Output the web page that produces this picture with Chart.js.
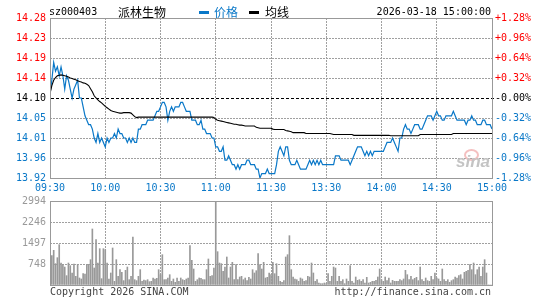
<!DOCTYPE html>
<html>
<head>
<meta charset="utf-8">
<script src="https://cdn.jsdelivr.net/npm/chart.js@4.4.1/dist/chart.umd.min.js"></script>
<style>
body{margin:0;background:#fff;}
#wrap{position:relative;width:545px;height:300px;overflow:hidden;background:#fff;}
canvas{position:absolute;left:0;}
.t{position:absolute;font-family:"DejaVu Sans Mono",monospace;font-size:10px;line-height:12px;white-space:pre;color:#000;}
.cn{font-family:"Noto Sans CJK SC",sans-serif;font-size:12px;line-height:14px;}
.dash{position:absolute;top:11px;width:10px;height:3px;}
</style>
</head>
<body>
<div id="wrap">
<canvas id="priceChart" width="545" height="196" style="top:0px"></canvas>
<canvas id="volChart" width="545" height="110" style="top:190px"></canvas>

<div class="t" style="left:49px;top:6px">sz000403</div>
<div class="t cn" style="left:118px;top:5px">派林生物</div>
<div class="dash" style="left:199px;background:#0a78c8"></div>
<div class="t cn" style="left:214px;top:5px;color:#0a78c8">价格</div>
<div class="dash" style="left:249px;background:#000"></div>
<div class="t cn" style="left:265px;top:5px">均线</div>
<div class="t" style="right:54px;top:6px">2026-03-18 15:00:00</div>

<div style="position:absolute;left:464px;top:149px;width:11px;height:8px;border:2px solid #f4c0c0;border-radius:50%"></div>
<div style="position:absolute;left:456px;top:152px;font:italic bold 17px 'Liberation Sans',sans-serif;color:#c4c4c4">sina</div>

<div class="t" style="left:50px;top:286px;color:#444">Copyright 2026 SINA.COM</div>
<div class="t" style="right:54px;top:286px;color:#444">http://finance.sina.com.cn</div>
</div>

<script>
// DATA
let timeLabels = ["09:30","10:00","10:30","11:00","11:30","13:30","14:00","14:30","15:00"];
let priceTickLabels = ["13.92","13.96","14.01","14.05","14.10","14.14","14.19","14.23","14.28"];
let pctTickLabels = ["-1.28%","-0.96%","-0.64%","-0.32%","-0.00%","+0.32%","+0.64%","+0.96%","+1.28%"];
let volTickLabels = ["0","748","1497","2246","2994"];

let prevClose = 14.10;
let priceMin = 13.92;
let priceMax = 14.28;
let volMax = 2994;

// one value per minute, 09:30 .. 11:30 / 13:01 .. 15:00
let prices = [
14.11,14.14,14.18,14.16,14.17,14.15,14.17,14.15,14.12,14.15,
14.14,14.12,14.10,14.12,14.13,14.14,14.10,14.10,14.08,14.06,
14.05,14.04,14.04,14.03,14.01,14.00,14.02,14.00,14.01,14.00,
13.99,14.01,14.00,14.01,14.01,14.02,14.01,14.03,14.02,14.02,
14.01,14.01,14.00,14.01,14.00,14.01,14.00,14.00,14.03,14.03,
14.04,14.04,14.04,14.05,14.05,14.05,14.05,14.06,14.07,14.07,
14.08,14.09,14.09,14.08,14.05,14.07,14.08,14.07,14.08,14.08,
14.08,14.09,14.09,14.08,14.07,14.07,14.07,14.05,14.05,14.05,
14.04,14.04,14.05,14.03,14.03,14.02,14.02,14.02,14.01,14.01,
13.99,13.99,13.98,13.98,13.99,13.96,13.96,13.97,13.96,13.95,
13.95,13.94,13.95,13.94,13.95,13.95,13.95,13.96,13.96,13.95,
13.95,13.95,13.94,13.94,13.92,13.93,13.93,13.93,13.94,13.93,
13.93,13.93,13.93,13.95,13.98,13.99,13.98,13.97,13.99,13.99,
13.96,13.95,13.95,13.95,13.96,13.95,13.94,13.94,13.94,13.94,
13.95,13.96,13.95,13.96,13.95,13.96,13.95,13.96,13.95,13.95,
13.95,13.95,13.95,13.95,13.95,13.97,13.97,13.97,13.96,13.96,
13.96,13.96,13.96,13.95,13.96,13.97,13.98,13.99,13.99,13.99,
13.98,13.97,13.98,13.97,13.98,13.97,13.98,13.98,13.98,13.98,
13.98,13.98,13.99,14.00,14.00,14.00,14.01,14.00,13.99,13.98,
14.01,14.01,14.03,14.04,14.03,14.03,14.02,14.03,14.04,14.04,
14.04,14.03,14.03,14.04,14.05,14.06,14.06,14.06,14.05,14.06,
14.07,14.06,14.06,14.05,14.05,14.06,14.06,14.06,14.06,14.07,
14.06,14.05,14.05,14.05,14.05,14.05,14.04,14.05,14.05,14.06,
14.05,14.05,14.04,14.04,14.04,14.05,14.05,14.04,14.04,14.04,
14.03
];

let avgPrices = [
14.110,14.128,14.140,14.146,14.150,14.151,14.152,14.151,14.150,14.149,
14.147,14.145,14.144,14.142,14.141,14.139,14.137,14.136,14.134,14.133,
14.131,14.128,14.121,14.114,14.105,14.100,14.096,14.092,14.089,14.085,
14.081,14.078,14.075,14.072,14.070,14.069,14.068,14.067,14.066,14.066,
14.067,14.067,14.067,14.067,14.066,14.062,14.058,14.056,14.057,14.057,
14.057,14.057,14.057,14.057,14.057,14.057,14.057,14.057,14.057,14.057,
14.057,14.057,14.057,14.057,14.057,14.057,14.057,14.057,14.057,14.057,
14.057,14.057,14.057,14.057,14.057,14.057,14.057,14.057,14.057,14.057,
14.057,14.057,14.057,14.057,14.057,14.057,14.057,14.057,14.057,14.056,
14.052,14.050,14.049,14.048,14.047,14.046,14.045,14.044,14.043,14.042,
14.041,14.041,14.040,14.039,14.039,14.038,14.037,14.037,14.037,14.037,
14.037,14.037,14.034,14.033,14.032,14.032,14.032,14.032,14.032,14.032,
14.032,14.030,14.029,14.029,14.029,14.029,14.029,14.029,14.027,14.026,
14.025,14.024,14.022,14.022,14.022,14.022,14.022,14.022,14.022,14.020,
14.020,14.020,14.020,14.020,14.020,14.020,14.020,14.020,14.020,14.020,
14.020,14.020,14.020,14.019,14.018,14.018,14.018,14.018,14.018,14.018,
14.018,14.018,14.018,14.018,14.018,14.016,14.016,14.016,14.016,14.016,
14.016,14.016,14.016,14.016,14.016,14.016,14.016,14.016,14.016,14.016,
14.016,14.016,14.016,14.016,14.016,14.015,14.015,14.015,14.015,14.015,
14.015,14.015,14.015,14.015,14.015,14.015,14.015,14.015,14.015,14.015,
14.015,14.018,14.018,14.018,14.018,14.018,14.018,14.018,14.018,14.018,
14.018,14.018,14.018,14.018,14.018,14.018,14.018,14.018,14.018,14.020,
14.020,14.020,14.020,14.020,14.020,14.020,14.020,14.020,14.020,14.020,
14.020,14.020,14.020,14.020,14.020,14.020,14.020,14.020,14.020,14.020,
14.020
];

let volumes = [
131,1045,1235,760,974,1437,784,725,641,333,
784,689,428,748,309,737,250,214,404,392,
725,737,903,1996,606,1616,784,1295,226,1295,
1259,784,214,428,1319,131,903,309,547,451,
155,523,641,190,309,1711,190,155,309,547,
131,178,155,190,119,131,250,214,238,547,
368,1081,190,190,250,368,131,214,95,250,
131,250,190,166,214,250,1402,879,570,131,
190,250,238,190,190,547,927,309,333,606,
2994,1188,784,760,487,641,998,250,641,808,
190,725,190,285,309,190,250,155,273,214,
546,428,511,1117,725,570,808,250,273,428,
368,808,404,760,309,131,95,155,998,1081,
1758,547,285,214,190,131,250,214,131,155,
309,285,784,428,131,190,71,48,48,71,
48,404,131,309,641,606,131,309,131,190,
48,214,131,689,131,71,285,166,190,131,
190,71,273,71,95,131,131,166,285,570,
190,131,285,155,250,71,166,131,131,131,
190,155,214,523,368,190,309,190,238,273,
155,641,190,131,250,155,131,309,190,428,
250,214,131,570,190,131,190,95,155,190,
285,250,333,368,214,451,487,523,725,546,
784,368,546,641,309,641,903,428,0,0,
0
];

// COLOURS
let blue = "#0a78c8";
let red = "#ff0000";
let gridGray = "#a0a0a0";

function labelColor(i){
if(i < 4) return blue;
if(i == 4) return "#000";
return red;
}

let monoFont = {family:"DejaVu Sans Mono", size:10};

// inner grid lines only; the outer ones belong to the frame
function innerGrid(c){
let n = c.scale.ticks.length;
if(c.index == 0 || c.index == n - 1) return "rgba(0,0,0,0)";
return gridGray;
}

// PREV CLOSE LINE + FRAME PLUGIN
let framePlugin = {
id:"frame",
beforeDatasetsDraw(chart, args, opts){
if(opts.dashValue == null) return;
let ctx = chart.ctx;
let a = chart.chartArea;
let y = chart.scales.y;
let py = Math.round(y.getPixelForValue(opts.dashValue));
ctx.save();
ctx.fillStyle = "#fff";
ctx.fillRect(a.left + 1, py, a.right - a.left - 1, 1);
ctx.fillStyle = "#000";
for(let px = Math.round(a.left) + 1; px < a.right; px += 5){ ctx.fillRect(px, py, 3, 1); }
ctx.restore();
},
afterDatasetsDraw(chart){
let ctx = chart.ctx;
let a = chart.chartArea;
ctx.save();
ctx.lineWidth = 1;
ctx.strokeStyle = "#999999";
ctx.strokeRect(Math.round(a.left) + 0.5, Math.round(a.top) + 0.5, Math.round(a.right - a.left), Math.round(a.bottom - a.top));
ctx.restore();
}
};

// PRICE CHART
let pricePoints = prices.map((p,i)=>({x:i, y:p}));
let avgPoints = avgPrices.map((p,i)=>({x:i, y:p}));

new Chart(document.getElementById("priceChart"),{
type:"line",
data:{
datasets:[
{
label:"均线",
data:avgPoints,
borderColor:"#000",
borderWidth:1.1,
pointRadius:0,
tension:0
},
{
label:"价格",
data:pricePoints,
borderColor:blue,
borderWidth:1.2,
pointRadius:0,
tension:0
}
]
},
options:{
responsive:false,
animation:false,
events:[],
layout:{padding:{top:18, left:0, right:0, bottom:0}},
plugins:{
legend:{display:false},
tooltip:{enabled:false},
frame:{dashValue:prevClose}
},
scales:{
x:{
type:"linear",
min:0,
max:240,
grid:{display:true, drawTicks:false, lineWidth:1, color:innerGrid},
border:{display:false, dash:[2,1]},
afterBuildTicks(scale){
scale.ticks = timeLabels.map((l,i)=>({value:i*30}));
},
afterFit(scale){ scale.height = 18; },
ticks:{
autoSkip:false,
maxRotation:0,
padding:4,
color:blue,
font:monoFont,
callback:(v,i)=>timeLabels[i]
}
},
y:{
position:"left",
min:priceMin,
max:priceMax,
grid:{display:true, drawTicks:false, lineWidth:1, color:innerGrid},
border:{display:false, dash:[2,1]},
afterBuildTicks(scale){
scale.ticks = priceTickLabels.map((l,i)=>({value:priceMin + i*(priceMax-priceMin)/8}));
},
afterFit(scale){ scale.width = 50; },
ticks:{
padding:4,
font:monoFont,
color:c=>labelColor(c.index),
callback:(v,i)=>priceTickLabels[i]
}
},
y2:{
position:"right",
min:priceMin,
max:priceMax,
grid:{display:false, drawTicks:false},
border:{display:false},
afterBuildTicks(scale){
scale.ticks = pctTickLabels.map((l,i)=>({value:priceMin + i*(priceMax-priceMin)/8}));
},
afterFit(scale){ scale.width = 53; },
ticks:{
padding:3,
font:monoFont,
color:c=>labelColor(c.index),
callback:(v,i)=>pctTickLabels[i]
}
}
}
},
plugins:[framePlugin]
});

// VOLUME CHART
let volPoints = volumes.map((v,i)=>({x:i, y:v}));

new Chart(document.getElementById("volChart"),{
type:"bar",
data:{
datasets:[{
label:"成交量",
data:volPoints,
backgroundColor:"#999999",
barThickness:1,
borderWidth:0
}]
},
options:{
responsive:false,
animation:false,
events:[],
layout:{padding:{top:11, left:0, right:53, bottom:15}},
plugins:{
legend:{display:false},
tooltip:{enabled:false},
frame:{dashValue:null}
},
scales:{
x:{
type:"linear",
min:0,
max:240,
offset:false,
grid:{display:true, offset:false, drawTicks:false, lineWidth:1, color:innerGrid},
border:{display:false, dash:[2,1]},
afterBuildTicks(scale){
scale.ticks = timeLabels.map((l,i)=>({value:i*30}));
},
ticks:{display:false}
},
y:{
position:"left",
min:0,
max:volMax,
grid:{display:true, drawTicks:false, lineWidth:1, color:innerGrid},
border:{display:false, dash:[2,1]},
afterBuildTicks(scale){
scale.ticks = volTickLabels.map((l,i)=>({value:i*volMax/4}));
},
afterFit(scale){ scale.width = 50; },
ticks:{
padding:4,
font:monoFont,
color:"#999999",
callback:(v,i)=>i == 0 ? "" : volTickLabels[i]
}
}
}
},
plugins:[framePlugin]
});
</script>
</body>
</html>
